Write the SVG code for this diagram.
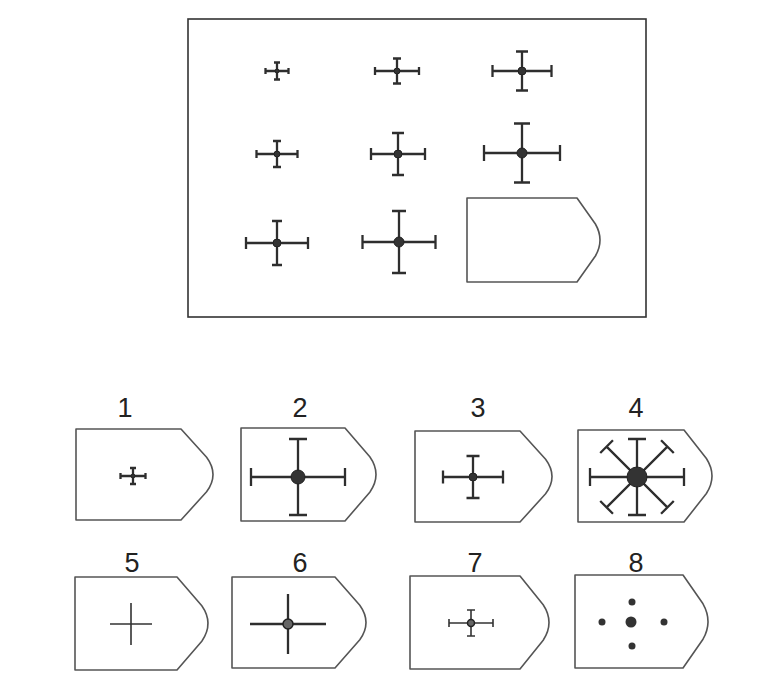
<svg xmlns="http://www.w3.org/2000/svg" width="770" height="684" viewBox="0 0 770 684">
<style>
.frame{fill:none;stroke:#333;stroke-width:1.6}
.shield{fill:#fff;stroke:#555;stroke-width:1.6;stroke-linejoin:round}
.x{fill:none;stroke:#2e2e2e;stroke-width:2.3;stroke-linecap:butt}
.thin{fill:none;stroke:#333;stroke-width:1.6}
.hub{fill:#333;stroke:#222;stroke-width:1}
.ring{fill:#666;stroke:#222;stroke-width:1.5}
.dot{fill:#333}
.lbl{font-family:"Liberation Sans",Arial,sans-serif;font-size:27px;fill:#222;text-anchor:middle}
</style>
<rect width="770" height="684" fill="#fff"/>

<g id="matrix">
  <rect class="frame" x="188" y="19" width="458" height="298"/>
  <g id="cell-1-1"><path class="x" d="M265.5,71 H288.5 M277,62.5 V79.5 M265.5,68 V74 M288.5,68 V74 M274,62.5 H280 M274,79.5 H280"/><circle class="hub" cx="277" cy="71" r="2"/></g>
  <g id="cell-1-2"><path class="x" d="M375,71 H419 M397,58.5 V83.5 M375,67 V75 M419,67 V75 M393,58.5 H401 M393,83.5 H401"/><circle class="hub" cx="397" cy="71" r="3"/></g>
  <g id="cell-1-3"><path class="x" d="M492.5,71 H551.5 M522,51.5 V90.5 M492.5,65 V77 M551.5,65 V77 M516,51.5 H528 M516,90.5 H528"/><circle class="hub" cx="522" cy="71" r="4"/></g>
  <g id="cell-2-1"><path class="x" d="M256.5,154 H297.5 M277,141 V167 M256.5,150 V158 M297.5,150 V158 M273,141 H281 M273,167 H281"/><circle class="hub" cx="277" cy="154" r="3"/></g>
  <g id="cell-2-2"><path class="x" d="M371,154 H425 M398,133 V175 M371,148 V160 M425,148 V160 M392,133 H404 M392,175 H404"/><circle class="hub" cx="398" cy="154" r="4"/></g>
  <g id="cell-2-3"><path class="x" d="M484,153 H560 M522,123.5 V182.5 M484,145 V161 M560,145 V161 M514,123.5 H530 M514,182.5 H530"/><circle class="hub" cx="522" cy="153" r="5"/></g>
  <g id="cell-3-1"><path class="x" d="M246,243 H308 M277,221 V265 M246,237 V249 M308,237 V249 M272,221 H282 M272,265 H282"/><circle class="hub" cx="277" cy="243" r="4"/></g>
  <g id="cell-3-2"><path class="x" d="M362.5,242 H435.5 M399,211 V273 M362.5,235 V249 M435.5,235 V249 M392,211 H406 M392,273 H406"/><circle class="hub" cx="399" cy="242" r="5"/></g>
  <g id="cell-3-3"><path class="shield" d="M467,198 H577 L595.4,224 Q604.6,240 595.4,256 L577,282 H467 Z"/></g>
</g>

<g id="option-1">
  <text class="lbl" x="125" y="417">1</text>
  <path class="shield" d="M76,429 H181 L206.6,457.2 Q219.4,474.5 206.6,491.8 L181,520 H76 Z"/>
  <path class="x" d="M120.5,476 H145.5 M133,468 V484 M120.5,473 V479 M145.5,473 V479 M130,468 H136 M130,484 H136"/>
  <circle class="hub" cx="133" cy="476" r="2"/>
</g>
<g id="option-2">
  <text class="lbl" x="300" y="417">2</text>
  <path class="shield" d="M241,428 H345 L369.8,456.8 Q382.2,474.5 369.8,492.2 L345,521 H241 Z"/>
  <path class="x" d="M251,477 H345 M298,439 V515 M251,468 V486 M345,468 V486 M289,439 H307 M289,515 H307"/>
  <circle class="hub" cx="298" cy="477" r="7"/>
</g>
<g id="option-3">
  <text class="lbl" x="478" y="417">3</text>
  <path class="shield" d="M415,431 H520 L545.6,459.2 Q558.4,476.5 545.6,493.8 L520,522 H415 Z"/>
  <path class="x" d="M443,477 H503 M473,456 V498 M443,470.5 V483.5 M503,470.5 V483.5 M466.5,456 H479.5 M466.5,498 H479.5"/>
  <circle class="hub" cx="473" cy="477" r="4"/>
</g>
<g id="option-4">
  <text class="lbl" x="636" y="417">4</text>
  <path class="shield" d="M578,430 H684 L706.4,458.5 Q717.6,476 706.4,493.5 L684,522 H578 Z"/>
  <g transform="translate(637,477)">
    <path class="x" d="M-47,0 H47 M-47,-9 V9 M47,-9 V9 M0,-38 V38 M-9,-38 H9 M-9,38 H9"/>
    <path class="x" transform="rotate(45)" d="M-43,0 H43 M-43,-9 V9 M43,-9 V9 M0,-43 V43 M-9,-43 H9 M-9,43 H9"/>
    <circle class="hub" cx="0" cy="0" r="10" fill="#444"/>
  </g>
</g>
<g id="option-5">
  <text class="lbl" x="132" y="572">5</text>
  <path class="shield" d="M75,577 H177 L201.8,605.8 Q214.2,623.5 201.8,641.2 L177,670 H75 Z"/>
  <path class="thin" d="M110,624 H152 M131,603 V645"/>
</g>
<g id="option-6">
  <text class="lbl" x="300" y="572">6</text>
  <path class="shield" d="M232,577 H335 L359.8,605.2 Q372.2,622.5 359.8,639.8 L335,668 H232 Z"/>
  <path class="x" d="M250,624 H326 M288,594 V654"/>
  <circle class="ring" cx="288" cy="624" r="5"/>
</g>
<g id="option-7">
  <text class="lbl" x="475" y="572">7</text>
  <path class="shield" d="M410,576 H520 L543.2,604.8 Q554.8,622.5 543.2,640.2 L520,669 H410 Z"/>
  <path class="thin" d="M449,623 H493 M471,610 V636 M449,619 V627 M493,619 V627 M467,610 H475 M467,636 H475"/>
  <circle class="ring" cx="471" cy="623" r="3.5" fill="#fff"/>
</g>
<g id="option-8">
  <text class="lbl" x="636" y="572">8</text>
  <path class="shield" d="M575,575 H683 L703,603.8 Q713,621.5 703,639.2 L683,668 H575 Z"/>
  <circle class="dot" cx="631" cy="622" r="5.5"/>
  <circle class="dot" cx="632" cy="602" r="3.5"/>
  <circle class="dot" cx="632" cy="646" r="3.5"/>
  <circle class="dot" cx="602" cy="622" r="3.5"/>
  <circle class="dot" cx="664" cy="622" r="3.5"/>
</g>
<g id="connectors"/>
</svg>
